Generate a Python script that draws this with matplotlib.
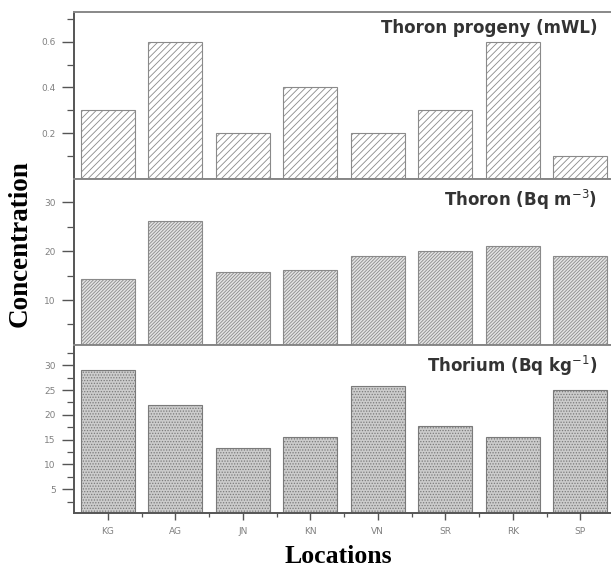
import matplotlib
matplotlib.use("Agg")
import matplotlib.pyplot as plt
from matplotlib.ticker import FixedLocator
import numpy as np

locations = ["KG", "AG", "JN", "KN", "VN", "SR", "RK", "SP"]
thoron_progeny = [0.3, 0.6, 0.2, 0.4, 0.2, 0.3, 0.6, 0.1]
thoron = [14.3, 26.1, 15.7, 16.2, 19.0, 20.1, 21.0, 19.1]
thorium = [29.1, 22.0, 13.4, 15.6, 25.8, 17.7, 15.5, 25.1]

plt.rcParams['hatch.linewidth'] = 0.6

fig = plt.figure(figsize=(6.11, 5.67), dpi=100)
left, width = 74/611, 540/611
ax_top = fig.add_axes([left, 1-179/567, width, 167/567])
ax_mid = fig.add_axes([left, 1-345/567, width, 166/567])
ax_bot = fig.add_axes([left, 1-513/567, width, 168/567])

x = np.arange(len(locations))
spine_c = '#555555'
tick_c = '#808080'

def style(ax):
    for s in ['left', 'bottom', 'top']:
        ax.spines[s].set_color(spine_c)
        ax.spines[s].set_linewidth(1.4)
    ax.spines['right'].set_visible(False)
    ax.spines['top'].set_color('#888888')
    ax.tick_params(axis='y', which='major', direction='out', length=9, width=1.0,
                   color=spine_c, labelsize=6.5, labelcolor=tick_c, pad=4)
    ax.tick_params(axis='y', which='minor', direction='out', length=5, width=0.9, color=spine_c)
    ax.set_xlim(-0.5, 7.5)

title_kw = dict(ha='right', va='center', fontsize=12, fontweight='bold', color='#333333')

# top
ax_top.bar(x, thoron_progeny, width=0.8, facecolor='white', edgecolor='#8a8a8a',
           linewidth=0.8, hatch='/////')
ax_top.set_ylim(0, 0.73)
ax_top.yaxis.set_major_locator(FixedLocator([0.2, 0.4, 0.6]))
ax_top.yaxis.set_minor_locator(FixedLocator([0.1, 0.3, 0.5, 0.7]))
ax_top.set_yticklabels(['0.2', '0.4', '0.6'])
style(ax_top)
ax_top.set_xticks([])
ax_top.text(0.969, 0.904, "Thoron progeny (mWL)", transform=ax_top.transAxes, **title_kw)

# middle
ax_mid.bar(x, thoron, width=0.8, facecolor='#e4e4e4', edgecolor='#8a8a8a',
           linewidth=0.8, hatch='//////////')
ax_mid.set_ylim(0.8, 34.8)
ax_mid.yaxis.set_major_locator(FixedLocator([10, 20, 30]))
ax_mid.yaxis.set_minor_locator(FixedLocator([5, 15, 25]))
ax_mid.set_yticklabels(['10', '20', '30'])
style(ax_mid)
ax_mid.set_xticks([])
ax_mid.text(0.969, 0.874, "Thoron (Bq m$^{-3}$)", transform=ax_mid.transAxes, **title_kw)

# bottom
ax_bot.bar(x, thorium, width=0.8, facecolor='#cccccc', edgecolor='#7a7a7a',
           linewidth=0.8, hatch='......')
ax_bot.set_ylim(0.2, 34.1)
ax_bot.yaxis.set_major_locator(FixedLocator([5, 10, 15, 20, 25, 30]))
ax_bot.yaxis.set_minor_locator(FixedLocator([2.5, 7.5, 12.5, 17.5, 22.5, 27.5, 32.5]))
ax_bot.set_yticklabels(['5', '10', '15', '20', '25', '30'])
style(ax_bot)
ax_bot.set_xticks(x)
ax_bot.set_xticklabels(locations)
ax_bot.xaxis.set_minor_locator(FixedLocator(x[:-1] + 0.5))
ax_bot.tick_params(axis='x', which='major', direction='out', length=5, width=1.0,
                   color=spine_c, labelsize=6.5, labelcolor=tick_c, pad=5)
ax_bot.tick_params(axis='x', which='minor', direction='out', length=3, width=0.9, color=spine_c)
ax_bot.text(0.969, 0.875, "Thorium (Bq kg$^{-1}$)", transform=ax_bot.transAxes, **title_kw)

fig.text(0.554, 0.019, "Locations", ha='center', va='center', fontsize=18.5,
         fontweight='bold', family='Liberation Serif')
fig.text(0.033, 0.570, "Concentration", ha='center', va='center', rotation=90,
         fontsize=19.5, fontweight='bold', family='Liberation Serif')

fig.savefig("out.png", dpi=100)
